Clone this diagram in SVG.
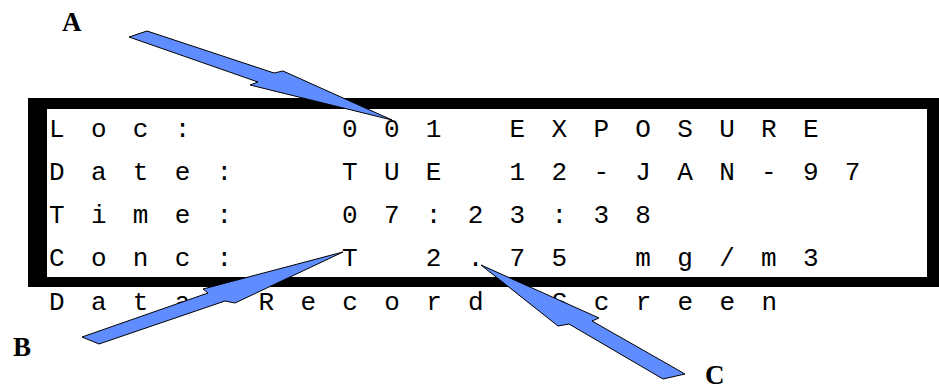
<svg xmlns="http://www.w3.org/2000/svg" width="939" height="391" viewBox="0 0 939 391">
  <style>
    .lcd { font-family: "Liberation Mono", "Courier New", monospace; font-size: 26px; letter-spacing: 5.35px; fill: #000; white-space: pre; }
    .lbl { font-family: "Liberation Serif", "Times New Roman", serif; font-size: 27px; font-weight: bold; fill: #000; }
    .arrow { fill: #5f8cff; stroke: #000; stroke-width: 1; stroke-linejoin: miter; }
  </style>
  <rect width="939" height="391" fill="#fff"/>
  <g id="frame">
    <path d="M28 98 H939 V287 H28 Z M47 109 V277 H927 V109 Z" fill="#000" fill-rule="evenodd"/>
  </g>
  <g id="display">
    <text class="lcd" x="49" y="137" xml:space="preserve">L o c :</text>
    <text class="lcd" x="342" y="137" xml:space="preserve">0 0 1   E X P O S U R E</text>
    <text class="lcd" x="49" y="180" xml:space="preserve">D a t e :</text>
    <text class="lcd" x="342" y="180" xml:space="preserve">T U E   1 2 - J A N - 9 7</text>
    <text class="lcd" x="49" y="223" xml:space="preserve">T i m e :</text>
    <text class="lcd" x="342" y="223" xml:space="preserve">0 7 : 2 3 : 3 8</text>
    <text class="lcd" x="49" y="266" xml:space="preserve">C o n c :</text>
    <text class="lcd" x="342" y="266" xml:space="preserve">T   2 . 7 5   m g / m 3</text>
    <text class="lcd" x="49" y="310" xml:space="preserve">D a t a   R e c o r d   S c r e e n</text>
  </g>
  <g id="connectors">
    <polygon id="arrow-A" class="arrow" points="147,31 274,73 283,71 392,120 250,85 258,82 129,37"/>
    <polygon id="arrow-B" class="arrow" points="82,337 208,293 203,289 343,252 235,303 225,301 99,344"/>
    <polygon id="arrow-C" class="arrow" points="481,265 599,318 592,321 685,374 663,379 569,324 558,326"/>
  </g>
  <g id="label-A"><text class="lbl" x="62" y="31">A</text></g>
  <g id="label-B"><text class="lbl" x="13" y="356">B</text></g>
  <g id="label-C"><text class="lbl" x="705" y="384">C</text></g>
</svg>
